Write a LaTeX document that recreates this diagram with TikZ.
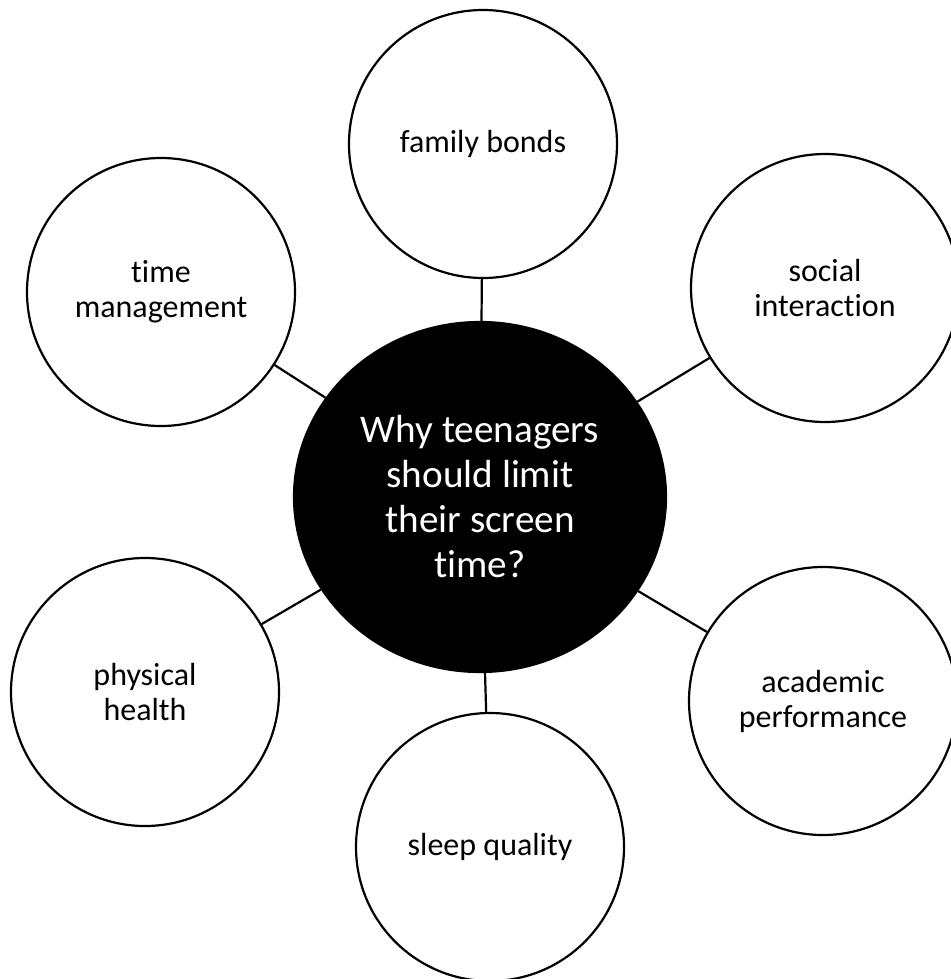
\documentclass[tikz,border=0pt]{standalone}
\usepackage{fontspec}
\setmainfont{Carlito}[Ligatures=NoCommon]
\usetikzlibrary{shapes.geometric}

\begin{document}
\begin{tikzpicture}[x=0.5pt,y=-0.5pt,line width=1.1pt,
    topic/.style={circle,draw,fill=white,inner sep=0pt,minimum size=134pt,
      align=center,font=\fontsize{16}{17.5}\selectfont},
    hub/.style={ellipse,draw,fill=black,text=white,inner sep=0pt,
      minimum width=186pt,minimum height=175pt,
      align=center,font=\fontsize{19.6}{22.5}\selectfont}]
  \useasboundingbox (0,0) rectangle (950,979);

  \node[hub]   (q)     at (480,497) {Why teenagers\\should limit\\their screen\\time?};
  \node[topic] (fam)   at (483,144) {family bonds};
  \node[topic] (soc)   at (825,288) {social\\interaction};
  \node[topic] (time)  at (161,292) {time\\management};
  \node[topic] (phys)  at (145,692) {physical\\health};
  \node[topic] (acad)  at (823,701) {academic\\performance};
  \node[topic] (sleep) at (490,847) {sleep quality};

  \path
    (q) edge (fam)
        edge (soc)
        edge (time)
        edge (phys)
        edge (acad)
        edge (sleep)
    ;
\end{tikzpicture}
\end{document}
